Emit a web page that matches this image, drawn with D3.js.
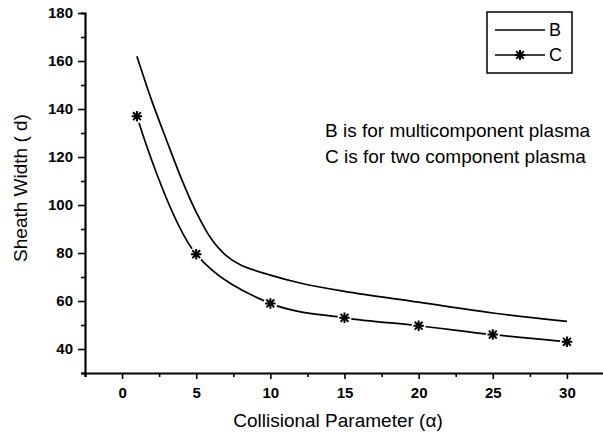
<!DOCTYPE html>
<html>
<head>
<meta charset="utf-8">
<script src="https://cdn.jsdelivr.net/npm/d3@7"></script>
<style>
  body { margin: 0; background: #fff; }
  text { font-family: "Liberation Sans", Arial, sans-serif; fill: #000; }
</style>
</head>
<body>
<svg id="chart" width="603" height="443"></svg>
<script>
// B: multicomponent plasma (line only)
var alphaB = [1, 2, 3, 4, 5, 6, 7, 8, 10, 12, 15, 20, 25, 30];
var widthB = [162, 143.5, 127, 111, 97, 86, 79, 75, 70.8, 67.5, 64, 59.5, 55, 51.5];

// C: two component plasma (line + star markers)
var alphaC = [1, 5, 10, 15, 20, 25, 30];
var widthC = [137, 79.5, 59, 53, 49.7, 46, 43];

var xTicks = [0, 5, 10, 15, 20, 25, 30];
var yTicks = [40, 60, 80, 100, 120, 140, 160, 180];

var svg = d3.select("#chart");

var x = d3.scaleLinear().domain([-2.5, 32.5]).range([85, 604]);
var y = d3.scaleLinear().domain([30, 180]).range([373, 13]);

// axes
var xAxis = svg.append("g")
    .attr("transform", "translate(0," + y(30) + ")")
    .call(d3.axisBottom(x).tickValues(d3.range(-2.5, 33, 2.5)).tickSize(4).tickFormat(""));
xAxis.selectAll(".tick line").attr("stroke-width", 1.6)
    .attr("y2", function (d) { return d % 5 === 0 ? 6 : 4; });

var xLab = svg.append("g")
    .attr("transform", "translate(0," + y(30) + ")")
    .call(d3.axisBottom(x).tickValues(xTicks).tickSize(0).tickPadding(14));
xLab.select(".domain").remove();

var yAxis = svg.append("g")
    .attr("transform", "translate(" + x(-2.5) + ",0)")
    .call(d3.axisLeft(y).tickValues(d3.range(30, 181, 10)).tickSize(4).tickFormat(""));
yAxis.selectAll(".tick line").attr("stroke-width", 1.6)
    .attr("x2", function (d) { return d % 20 === 0 ? -7 : -4; });

var yLab = svg.append("g")
    .attr("transform", "translate(" + x(-2.5) + ",0)")
    .call(d3.axisLeft(y).tickValues(yTicks).tickSize(0).tickPadding(12));
yLab.select(".domain").remove();

svg.selectAll(".domain").attr("stroke-width", 2.2);
svg.selectAll(".tick text")
    .style("font-size", "15px")
    .style("font-weight", "bold")
    .attr("fill", "#000");

// axis titles
svg.append("text")
    .attr("x", 338)
    .attr("y", 427)
    .attr("text-anchor", "middle")
    .style("font-size", "19px")
    .text("Collisional Parameter (\u03b1)");

svg.append("text")
    .attr("transform", "translate(27,188) rotate(-90)")
    .attr("text-anchor", "middle")
    .style("font-size", "19px")
    .text("Sheath Width ( d)");

// curves
var lineB = d3.line()
    .x(function (d, i) { return x(alphaB[i]); })
    .y(function (d) { return y(d); })
    .curve(d3.curveCatmullRom.alpha(0.5));

var lineC = d3.line()
    .x(function (d, i) { return x(alphaC[i]); })
    .y(function (d) { return y(d); })
    .curve(d3.curveCatmullRom.alpha(0.5));

svg.append("path")
    .attr("d", lineB(widthB))
    .attr("fill", "none")
    .attr("stroke", "#000")
    .attr("stroke-width", 1.7);

svg.append("path")
    .attr("d", lineC(widthC))
    .attr("fill", "none")
    .attr("stroke", "#000")
    .attr("stroke-width", 1.7);

// star marker (plus + cross)
var star = {
    draw: function (ctx, size) {
        var r = Math.sqrt(size) / 2, q = r * 0.75;
        ctx.moveTo(-r, 0); ctx.lineTo(r, 0);
        ctx.moveTo(0, -r); ctx.lineTo(0, r);
        ctx.moveTo(-q, -q); ctx.lineTo(q, q);
        ctx.moveTo(-q, q); ctx.lineTo(q, -q);
    }
};

// white gaps around markers, then markers
svg.append("g").selectAll("circle")
    .data(widthC)
    .enter().append("circle")
    .attr("cx", function (d, i) { return x(alphaC[i]); })
    .attr("cy", function (d) { return y(d); })
    .attr("r", 7)
    .attr("fill", "#fff");

svg.append("g").selectAll("path")
    .data(widthC)
    .enter().append("path")
    .attr("transform", function (d, i) { return "translate(" + x(alphaC[i]) + "," + y(d) + ")"; })
    .attr("d", d3.symbol().type(star).size(110))
    .attr("stroke", "#000")
    .attr("stroke-width", 2)
    .attr("fill", "none");

// legend
var leg = svg.append("g");
leg.append("rect")
    .attr("x", 487).attr("y", 12)
    .attr("width", 85).attr("height", 61)
    .attr("fill", "#fff")
    .attr("stroke", "#000")
    .attr("stroke-width", 1.5);
leg.append("line")
    .attr("x1", 495).attr("x2", 545).attr("y1", 30).attr("y2", 30)
    .attr("stroke", "#000").attr("stroke-width", 1.6);
leg.append("text").attr("x", 549).attr("y", 36).style("font-size", "18px").text("B");
leg.append("line")
    .attr("x1", 495).attr("x2", 545).attr("y1", 55).attr("y2", 55)
    .attr("stroke", "#000").attr("stroke-width", 1.6);
leg.append("path")
    .attr("transform", "translate(520,55)")
    .attr("d", d3.symbol().type(star).size(100))
    .attr("stroke", "#000").attr("stroke-width", 2).attr("fill", "none");
leg.append("text").attr("x", 549).attr("y", 61).style("font-size", "18px").text("C");

// annotation
svg.append("text").attr("x", 325).attr("y", 137).style("font-size", "19px")
    .text("B is for multicomponent plasma");
svg.append("text").attr("x", 325).attr("y", 163).style("font-size", "19px")
    .text("C is for two component plasma");
</script>
</body>
</html>
